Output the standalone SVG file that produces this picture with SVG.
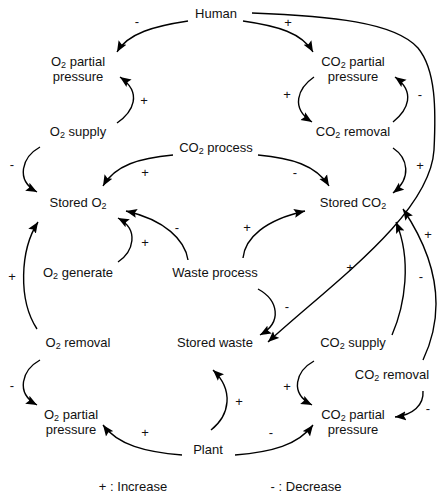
<svg xmlns="http://www.w3.org/2000/svg" width="439" height="501" viewBox="0 0 439 501">
<style>
text{font-family:"Liberation Sans",Arial,sans-serif;font-size:13px;fill:#111;text-anchor:middle}
.sub{font-size:9px}
.c path{fill:none;stroke:#000;stroke-width:1.4;marker-end:url(#ah)}
</style>
<defs>
<marker id="ah" markerUnits="userSpaceOnUse" markerWidth="12" markerHeight="10" viewBox="0 0 12 10" refX="11" refY="5" orient="auto">
<path d="M0,0.5 L11,5 L0,9.5 L2,5 Z" fill="#000"/>
</marker>
</defs>
<rect width="439" height="501" fill="#fff"/>
<g id="connectors" class="c">
<path d="M188,21 C155,26 128,33 117,52"/>
<path d="M243,21 C278,26 302,33 313,52"/>
<path d="M252,13 C330,16 395,22 418,48 C436,70 436,110 434,150 C430,215 330,285 268,342"/>
<path d="M117,123 C133,112 143,93 120,77"/>
<path d="M314,77 C298,88 290,108 312,122"/>
<path d="M393,122 C408,110 416,92 395,77"/>
<path d="M393,148 C408,158 412,178 393,193"/>
<path d="M40,147 C22,157 15,180 37,192"/>
<path d="M173,155 C140,158 115,165 103,186"/>
<path d="M258,155 C291,158 316,165 329,186"/>
<path d="M118,262 C133,252 140,230 118,218"/>
<path d="M188,260 C185,240 165,220 126,211"/>
<path d="M243,258 C245,238 265,220 305,211"/>
<path d="M258,289 C278,300 283,322 260,335"/>
<path d="M37,329 C18,300 20,250 38,222"/>
<path d="M40,360 C22,370 15,393 37,405"/>
<path d="M182,455 C145,452 118,445 103,425"/>
<path d="M211,430 C230,415 234,390 213,370"/>
<path d="M235,455 C272,452 298,445 313,425"/>
<path d="M314,361 C296,371 289,393 312,405"/>
<path d="M423,391 C424,405 413,415 395,417"/>
<path d="M392,335 C405,305 412,260 396,222"/>
<path d="M423,360 C442,320 444,270 403,209"/>
</g>
<g id="polarity">
<text x="137" y="26">-</text>
<text x="288" y="27">+</text>
<text x="144" y="105">+</text>
<text x="287" y="99">+</text>
<text x="420" y="99">-</text>
<text x="420" y="170">+</text>
<text x="12" y="169">-</text>
<text x="145" y="177">+</text>
<text x="295" y="177">-</text>
<text x="177" y="232">-</text>
<text x="247" y="232">+</text>
<text x="145" y="247">+</text>
<text x="12" y="281">+</text>
<text x="350" y="272">+</text>
<text x="428" y="239">+</text>
<text x="421" y="281">-</text>
<text x="287" y="311">-</text>
<text x="12" y="390">-</text>
<text x="287" y="391">+</text>
<text x="239" y="406">+</text>
<text x="428" y="413">-</text>
<text x="145" y="437">+</text>
<text x="271" y="437">-</text>
</g>
<g id="human"><text x="216" y="18">Human</text></g>
<g id="o2-partial-top"><text x="78" y="66">O<tspan class="sub" dy="2">2</tspan><tspan dy="-2"> partial</tspan></text><text x="78" y="81">pressure</text></g>
<g id="co2-partial-top"><text x="353" y="66">CO<tspan class="sub" dy="2">2</tspan><tspan dy="-2"> partial</tspan></text><text x="353" y="81">pressure</text></g>
<g id="o2-supply"><text x="78" y="136">O<tspan class="sub" dy="2">2</tspan><tspan dy="-2"> supply</tspan></text></g>
<g id="co2-removal-top"><text x="353" y="136">CO<tspan class="sub" dy="2">2</tspan><tspan dy="-2"> removal</tspan></text></g>
<g id="co2-process"><text x="216" y="152">CO<tspan class="sub" dy="2">2</tspan><tspan dy="-2"> process</tspan></text></g>
<g id="stored-o2"><text x="78" y="207">Stored O<tspan class="sub" dy="2">2</tspan></text></g>
<g id="stored-co2"><text x="353" y="207">Stored CO<tspan class="sub" dy="2">2</tspan></text></g>
<g id="o2-generate"><text x="78" y="277">O<tspan class="sub" dy="2">2</tspan><tspan dy="-2"> generate</tspan></text></g>
<g id="waste-process"><text x="215" y="277">Waste process</text></g>
<g id="o2-removal"><text x="78" y="347">O<tspan class="sub" dy="2">2</tspan><tspan dy="-2"> removal</tspan></text></g>
<g id="stored-waste"><text x="215" y="347">Stored waste</text></g>
<g id="co2-supply"><text x="353" y="347">CO<tspan class="sub" dy="2">2</tspan><tspan dy="-2"> supply</tspan></text></g>
<g id="co2-removal-bottom"><text x="392" y="379">CO<tspan class="sub" dy="2">2</tspan><tspan dy="-2"> removal</tspan></text></g>
<g id="o2-partial-bottom"><text x="71" y="419">O<tspan class="sub" dy="2">2</tspan><tspan dy="-2"> partial</tspan></text><text x="71" y="434">pressure</text></g>
<g id="co2-partial-bottom"><text x="353" y="419">CO<tspan class="sub" dy="2">2</tspan><tspan dy="-2"> partial</tspan></text><text x="353" y="434">pressure</text></g>
<g id="plant"><text x="208" y="454">Plant</text></g>
<g id="legend"><text x="133" y="491">+ : Increase</text><text x="306" y="491">- : Decrease</text></g>
</svg>
